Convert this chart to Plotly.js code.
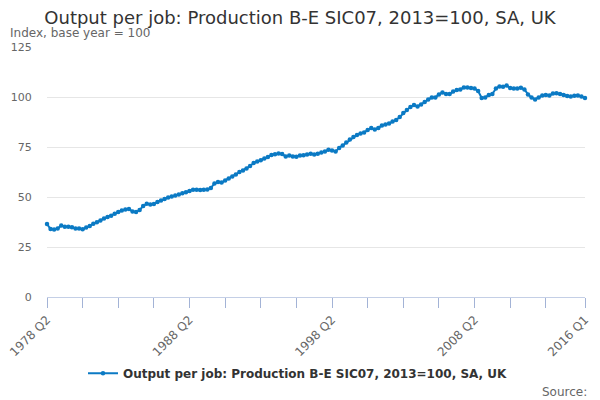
<!DOCTYPE html>
<html>
<head>
<meta charset="utf-8">
<script src="https://cdn.plot.ly/plotly-3.0.1.min.js"></script>
<style>
  html, body { margin: 0; padding: 0; background: #fff; }
  #graph { width: 600px; height: 400px; }
</style>
</head>
<body>
<div id="graph"></div>
<script>
// 1978 Q2 .. 2016 Q1, one value per quarter
var firstYear = 1978, firstQuarter = 2, quarterCount = 152;

var outputPerJob = [
  36.5, 34.0, 33.8, 34.3, 35.7, 35.1, 35.1, 34.9, 34.3, 34.2,
  33.9, 34.7, 35.5, 36.6, 37.4, 38.3, 39.3, 40.0, 40.6, 41.6,
  42.5, 43.3, 43.8, 44.0, 42.8, 42.5, 43.5, 45.5, 46.6, 46.3,
  46.5, 47.5, 48.3, 49.0, 49.7, 50.2, 50.7, 51.2, 51.9, 52.4,
  53.0, 53.6, 53.6, 53.5, 53.6, 53.8, 54.5, 56.8, 57.5, 57.2,
  58.3, 59.3, 60.2, 61.2, 62.5, 63.2, 64.2, 65.5, 67.0, 67.7,
  68.4, 69.2, 70.0, 71.0, 71.4, 71.7, 71.5, 70.3, 70.7, 70.3,
  70.1, 70.7, 70.9, 71.2, 71.6, 71.3, 71.6, 72.2, 72.7, 73.6,
  73.3, 72.8, 74.5, 75.8, 77.2, 78.8, 80.0, 81.0, 81.7, 82.3,
  83.5, 84.5, 83.8, 84.5, 85.8, 86.2, 86.7, 87.7, 88.5, 90.0,
  92.0, 93.5, 95.0, 96.0, 95.3, 96.2, 97.5, 98.7, 99.8, 99.7,
  101.3, 102.2, 101.5, 101.5, 102.7, 103.5, 103.8, 104.7, 104.8, 104.5,
  104.2, 103.0, 99.5, 99.8, 101.0, 101.5, 104.3, 105.3, 105.1, 105.7,
  104.5, 104.2, 104.3, 104.6, 103.8, 101.3, 99.7, 98.8, 99.8, 100.8,
  101.0, 100.8, 101.7, 101.9, 101.5, 101.0, 100.5, 100.3, 100.6, 100.7,
  100.2, 99.5
];

// quarter labels
var quarters = [];
for (var i = 0; i < quarterCount; i++) {
    var q = firstQuarter - 1 + i;
    quarters.push((firstYear + Math.floor(q / 4)) + ' Q' + (q % 4 + 1));
}

var labelledQuarters = ['1978 Q2', '1988 Q2', '1998 Q2', '2008 Q2', '2016 Q1'];
var yTicks = [0, 25, 50, 75, 100, 125];

// tick every 10 quarters, plus the last one
var tickIdx = [];
for (var t = 0; t < quarterCount - 10; t += 10) tickIdx.push(t);
tickIdx.push(quarterCount - 1);
var tickText = tickIdx.map(function (k) {
    return labelledQuarters.indexOf(quarters[k]) >= 0 ? quarters[k] : ' ';
});

var xIdx = quarters.map(function (q, k) { return k; });

var trace = {
    x: xIdx,
    y: outputPerJob,
    text: quarters,
    type: 'scatter',
    mode: 'lines+markers',
    name: 'Output per job: Production B-E SIC07, 2013=100, SA, UK',
    line: { color: '#0b7ac4', width: 2 },
    marker: { color: '#0b7ac4', size: 4.5 },
    hoverinfo: 'text+y',
    cliponaxis: false
};

var font = 'DejaVu Sans, sans-serif';
var axisBlue = '#a3b3d6';

var layout = {
    width: 600,
    height: 400,
    margin: { l: 47, r: 15, t: 47, b: 103 },
    paper_bgcolor: '#fff',
    plot_bgcolor: '#fff',
    font: { family: font, color: '#666' },
    title: {
        text: 'Output per job: Production B-E SIC07, 2013=100, SA, UK',
        font: { family: font, size: 18, color: '#333' },
        x: 0.5, xanchor: 'center',
        y: 1 - 18 / 400, yanchor: 'middle'
    },
    xaxis: {
        type: 'linear',
        range: [0, quarterCount - 1],
        tickmode: 'array',
        tickvals: tickIdx,
        ticktext: tickText,
        tickangle: -45,
        ticks: 'outside',
        ticklen: 10,
        tickwidth: 1,
        tickcolor: axisBlue,
        showticklabels: true,
        showline: true,
        linecolor: '#c4cfe6',
        linewidth: 1,
        showgrid: false,
        zeroline: false,
        tickfont: { family: font, size: 12, color: '#666' }
    },
    yaxis: {
        range: [0, 125],
        tickvals: yTicks,
        gridcolor: '#e6e6e6',
        zeroline: false,
        ticks: 'outside',
        ticklen: 12,
        tickcolor: 'rgba(255,255,255,0)',
        tickfont: { family: font, size: 11, color: '#666' }
    },
    showlegend: true,
    legend: {
        orientation: 'h',
        x: (298 - 47) / 538, xanchor: 'center',
        y: -0.305, yanchor: 'middle',
        itemwidth: 30,
        font: { family: font, size: 12, color: '#333', weight: 'bold' }
    },
    annotations: [
        {
            text: 'Index, base year = 100',
            xref: 'paper', yref: 'paper',
            x: (8 - 47) / 538, xanchor: 'left',
            y: 1 + 14 / 250, yanchor: 'middle',
            showarrow: false,
            font: { family: font, size: 12, color: '#666' }
        },
        {
            text: 'Source:',
            xref: 'paper', yref: 'paper',
            x: 1 + 4 / 538, xanchor: 'right',
            y: -95 / 250, yanchor: 'middle',
            showarrow: false,
            font: { family: font, size: 12, color: '#666' }
        }
    ]
};

Plotly.newPlot('graph', [trace], layout, { displayModeBar: false, staticPlot: true });
</script>
</body>
</html>
